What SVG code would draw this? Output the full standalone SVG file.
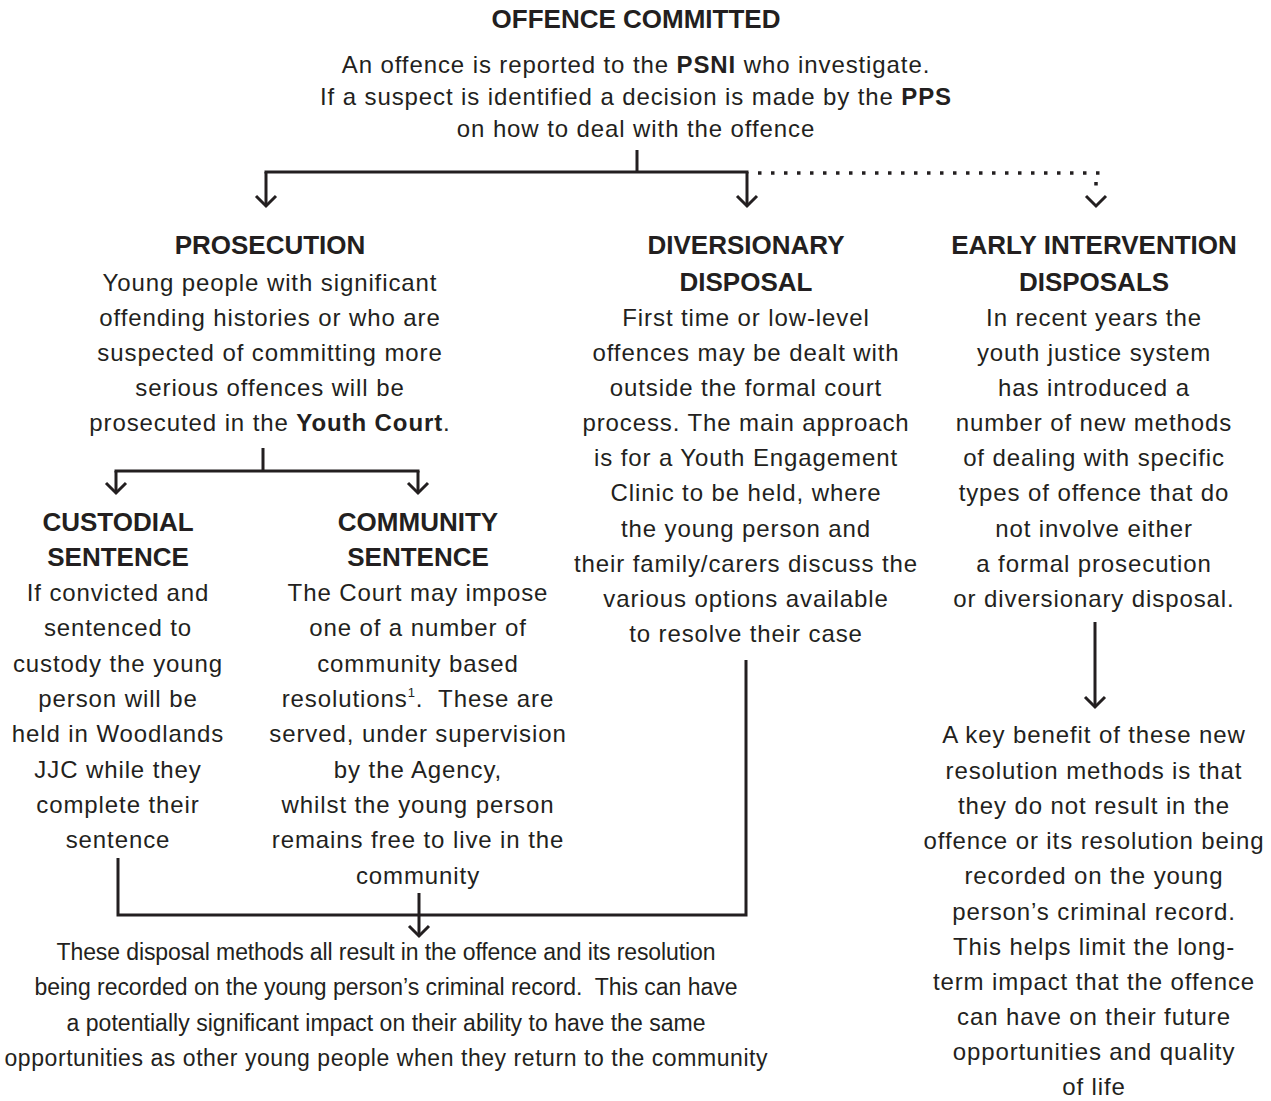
<svg xmlns="http://www.w3.org/2000/svg" width="1271" height="1101" viewBox="0 0 1271 1101">
<style>
text{font-family:"Liberation Sans",Arial,sans-serif;fill:#231f20;text-anchor:middle}
.h{font-size:26px;font-weight:bold}
.b{font-size:24px;letter-spacing:0.9px}
.o{font-size:23px}
.bb{font-weight:bold}
.ln{fill:none;stroke:#231f20;stroke-width:3}
.dot{fill:none;stroke:#231f20;stroke-width:3.5;stroke-dasharray:3.5 9.5}
.ar{marker-end:url(#chev)}
</style>
<defs>
<marker id="chev" markerUnits="userSpaceOnUse" orient="auto" overflow="visible" refX="0" refY="0" markerWidth="1" markerHeight="1">
<path d="M-10,-10 L0,0 L-10,10" fill="none" stroke="#231f20" stroke-width="3"/>
</marker>
</defs>
<rect width="1271" height="1101" fill="#ffffff"/>

<g id="connectors">
<path class="ln" d="M637,150 V172 M264.5,172 H748.5"/>
<path class="ln ar" d="M266,172 V206"/>
<path class="ln ar" d="M747,172 V206"/>
<path class="dot" d="M758,173 H1100"/>
<path class="dot" d="M1096,182 V192"/>
<path d="M1086,196 L1096,206 L1106,196" fill="none" stroke="#231f20" stroke-width="3"/>
<path class="ln" d="M263,448 V471 M114.5,471 H419.5"/>
<path class="ln ar" d="M116,471 V493"/>
<path class="ln ar" d="M418,471 V493"/>
<path class="ln ar" d="M1095,622 V707"/>
<path class="ln" d="M118,858 V915 H746 V660"/>
<path class="ln ar" d="M419,893 V936"/>
</g>

<g id="offence">
<text class="h" x="636" y="28">OFFENCE COMMITTED</text>
<text class="b" x="636" y="73">An offence is reported to the <tspan class="bb">PSNI</tspan> who investigate.</text>
<text class="b" x="636" y="105">If a suspect is identified a decision is made by the <tspan class="bb">PPS</tspan></text>
<text class="b" x="636" y="137">on how to deal with the offence</text>
</g>

<g id="prosecution">
<text class="h" x="270" y="254">PROSECUTION</text>
<text class="b" x="270" y="291">Young people with significant</text>
<text class="b" x="270" y="326">offending histories or who are</text>
<text class="b" x="270" y="361">suspected of committing more</text>
<text class="b" x="270" y="396">serious offences will be</text>
<text class="b" x="270" y="431">prosecuted in the <tspan class="bb">Youth Court</tspan>.</text>
</g>

<g id="diversionary">
<text class="h" x="746" y="254">DIVERSIONARY</text>
<text class="h" x="746" y="291">DISPOSAL</text>
<text class="b" x="746" y="326">First time or low-level</text>
<text class="b" x="746" y="361">offences may be dealt with</text>
<text class="b" x="746" y="396">outside the formal court</text>
<text class="b" x="746" y="431">process. The main approach</text>
<text class="b" x="746" y="466">is for a Youth Engagement</text>
<text class="b" x="746" y="501">Clinic to be held, where</text>
<text class="b" x="746" y="537">the young person and</text>
<text class="b" x="746" y="572">their family/carers discuss the</text>
<text class="b" x="746" y="607">various options available</text>
<text class="b" x="746" y="642">to resolve their case</text>
</g>

<g id="early">
<text class="h" x="1094" y="254">EARLY INTERVENTION</text>
<text class="h" x="1094" y="291">DISPOSALS</text>
<text class="b" x="1094" y="326">In recent years the</text>
<text class="b" x="1094" y="361">youth justice system</text>
<text class="b" x="1094" y="396">has introduced a</text>
<text class="b" x="1094" y="431">number of new methods</text>
<text class="b" x="1094" y="466">of dealing with specific</text>
<text class="b" x="1094" y="501">types of offence that do</text>
<text class="b" x="1094" y="537">not involve either</text>
<text class="b" x="1094" y="572">a formal prosecution</text>
<text class="b" x="1094" y="607">or diversionary disposal.</text>
</g>

<g id="benefit">
<text class="b" x="1094" y="743">A key benefit of these new</text>
<text class="b" x="1094" y="779">resolution methods is that</text>
<text class="b" x="1094" y="814">they do not result in the</text>
<text class="b" x="1094" y="849">offence or its resolution being</text>
<text class="b" x="1094" y="884">recorded on the young</text>
<text class="b" x="1094" y="920">person’s criminal record.</text>
<text class="b" x="1094" y="955">This helps limit the long-</text>
<text class="b" x="1094" y="990">term impact that the offence</text>
<text class="b" x="1094" y="1025">can have on their future</text>
<text class="b" x="1094" y="1060">opportunities and quality</text>
<text class="b" x="1094" y="1095">of life</text>
</g>

<g id="custodial">
<text class="h" x="118" y="531">CUSTODIAL</text>
<text class="h" x="118" y="566">SENTENCE</text>
<text class="b" x="118" y="601">If convicted and</text>
<text class="b" x="118" y="636">sentenced to</text>
<text class="b" x="118" y="672">custody the young</text>
<text class="b" x="118" y="707">person will be</text>
<text class="b" x="118" y="742">held in Woodlands</text>
<text class="b" x="118" y="778">JJC while they</text>
<text class="b" x="118" y="813">complete their</text>
<text class="b" x="118" y="848">sentence</text>
</g>

<g id="community">
<text class="h" x="418" y="531">COMMUNITY</text>
<text class="h" x="418" y="566">SENTENCE</text>
<text class="b" x="418" y="601">The Court may impose</text>
<text class="b" x="418" y="636">one of a number of</text>
<text class="b" x="418" y="672">community based</text>
<text class="b" x="418" y="707">resolutions<tspan font-size="13" dy="-10">1</tspan><tspan dy="10">.&#160; These are</tspan></text>
<text class="b" x="418" y="742">served, under supervision</text>
<text class="b" x="418" y="778">by the Agency,</text>
<text class="b" x="418" y="813">whilst the young person</text>
<text class="b" x="418" y="848">remains free to live in the</text>
<text class="b" x="418" y="884">community</text>
</g>

<g id="outcome">
<text class="o" x="386" y="960" textLength="659" lengthAdjust="spacing">These disposal methods all result in the offence and its resolution</text>
<text class="o" x="386" y="995" textLength="703" lengthAdjust="spacing">being recorded on the young person’s criminal record.&#160; This can have</text>
<text class="o" x="386" y="1031" textLength="639" lengthAdjust="spacing">a potentially significant impact on their ability to have the same</text>
<text class="o" x="386" y="1066" textLength="763" lengthAdjust="spacing">opportunities as other young people when they return to the community</text>
</g>
</svg>
